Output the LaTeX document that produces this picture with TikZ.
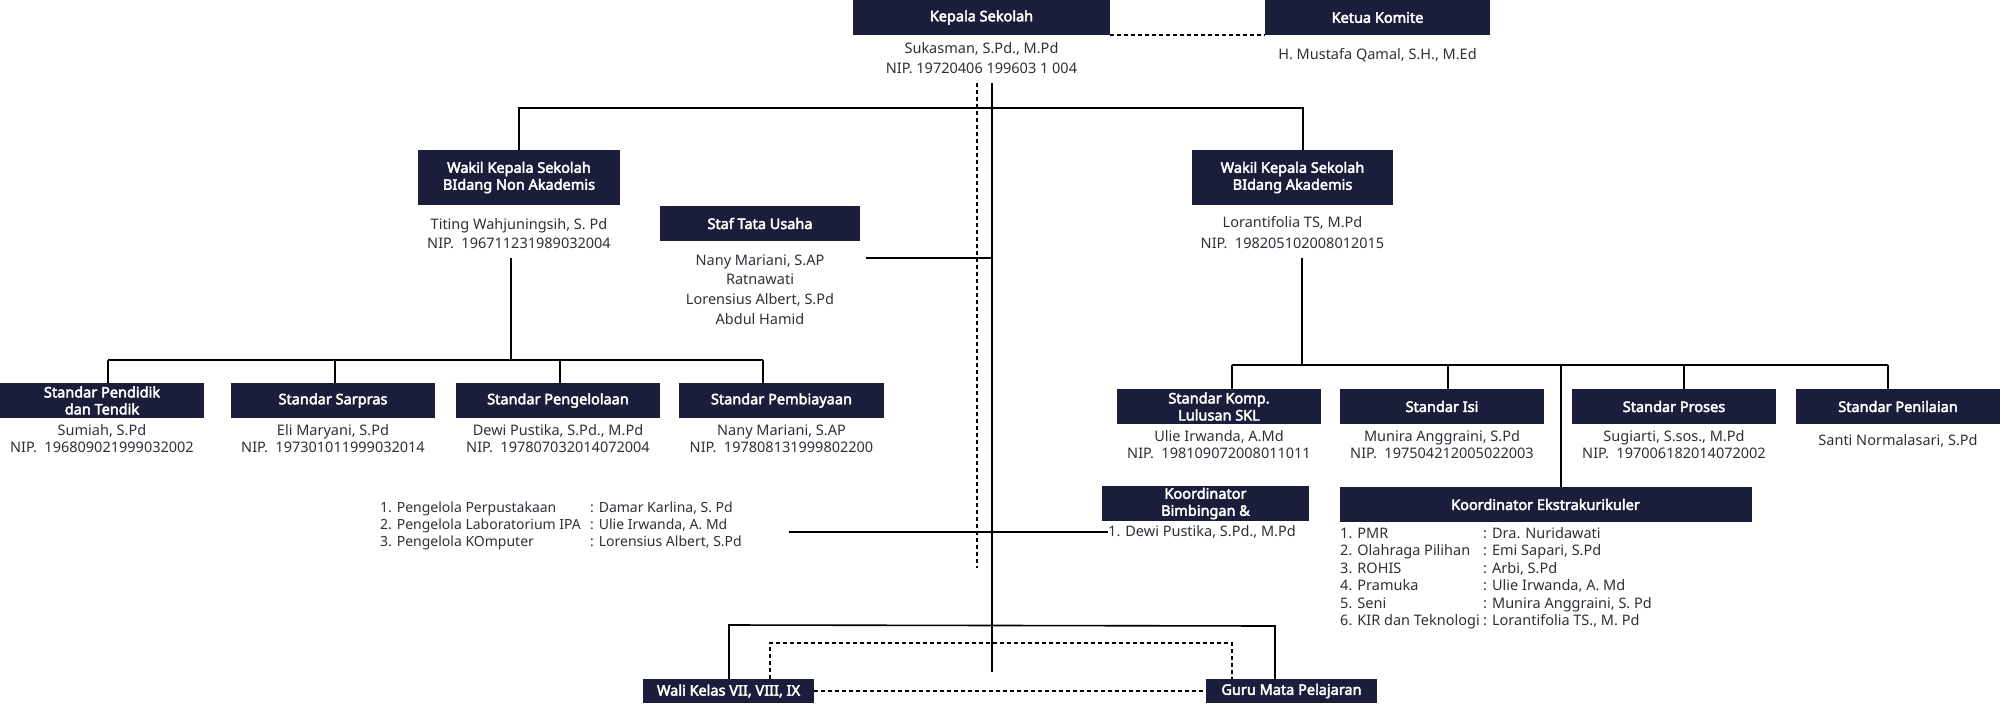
\documentclass[tikz,border=0pt]{standalone}
\usepackage{fontspec}
\setmainfont{Noto Sans}[AutoFakeBold=3]
\definecolor{navy}{HTML}{1B1E3A}
\definecolor{ink}{HTML}{2F2F38}
\newcommand\lrow[3]{\makebox[#1][l]{#2}: #3}

\begin{document}
\begin{tikzpicture}[x=1pt, y=-1pt, block/.style = {rectangle, fill=navy, text=white, font=\fontsize{14.5}{17}\selectfont\bfseries, align=center, inner sep=0pt, minimum height=35}, nm/.style = {text=ink, font=\fontsize{14.5}{17}\selectfont, align=center, inner sep=0pt}, ls/.style = {text=ink, font=\fontsize{14.5}{17.5}\selectfont, align=left, inner sep=0pt, anchor=north west}, ln/.style = {line width=1.6pt}, dt/.style = {line width=1.8pt, dash pattern=on 4pt off 3pt}]
        \useasboundingbox (0,0) rectangle (2000,705);

        \draw (981.5, 17.5) node[block, minimum width=257] (ks) {Kepala Sekolah};
        \draw (1377.5, 17.5) node[block, minimum width=225] (kk) {Ketua Komite};
        \draw (981.5, 58) node[nm, font=\fontsize{14.5}{20}\selectfont] (ksn) {Sukasman, S.Pd., M.Pd\\NIP. 19720406 199603 1 004};
        \draw (1377.5, 55) node[nm] (kkn) {H. Mustafa Qamal, S.H., M.Ed};

        \draw (519, 177.5) node[block, minimum width=202, minimum height=55] (wn) {Wakil Kepala Sekolah\\BIdang Non Akademis};
        \draw (519, 234) node[nm, font=\fontsize{14.5}{19}\selectfont] (wnn) {Titing Wahjuningsih, S. Pd\\NIP.\ \ 196711231989032004};
        \draw (1292.5, 177.5) node[block, minimum width=201, minimum height=55] (wa) {Wakil Kepala Sekolah\\BIdang Akademis};
        \draw (1292.5, 232.5) node[nm, font=\fontsize{14.5}{21}\selectfont] (wan) {Lorantifolia TS, M.Pd\\NIP.\ \ 198205102008012015};
        \draw (760, 223.5) node[block, minimum width=200] (ta) {Staf Tata Usaha};
        \draw (760, 289.5) node[nm, font=\fontsize{14.5}{19.6}\selectfont] (tan) {Nany Mariani, S.AP\\Ratnawati\\Lorensius Albert, S.Pd\\Abdul Hamid};

        \draw (102, 400.5) node[block, minimum width=204] (s1) {Standar Pendidik\\dan Tendik};
        \draw (333, 400.5) node[block, minimum width=204] (s2) {Standar Sarpras};
        \draw (558, 400.5) node[block, minimum width=204] (s3) {Standar Pengelolaan};
        \draw (781.5, 400.5) node[block, minimum width=205] (s4) {Standar Pembiayaan};
        \draw (102, 439) node[nm] (s1n) {Sumiah, S.Pd\\NIP.\ \ 196809021999032002};
        \draw (333, 439) node[nm] (s2n) {Eli Maryani, S.Pd\\NIP.\ \ 197301011999032014};
        \draw (558, 439) node[nm] (s3n) {Dewi Pustika, S.Pd., M.Pd\\NIP.\ \ 197807032014072004};
        \draw (781.5, 439) node[nm] (s4n) {Nany Mariani, S.AP\\NIP.\ \ 197808131999802200};

        \draw (1219, 406.5) node[block, minimum width=204] (r1) {Standar Komp.\\Lulusan SKL};
        \draw (1442, 406.5) node[block, minimum width=204] (r2) {Standar Isi};
        \draw (1674, 406.5) node[block, minimum width=204] (r3) {Standar Proses};
        \draw (1898, 406.5) node[block, minimum width=204] (r4) {Standar Penilaian};
        \draw (1219, 445) node[nm] (r1n) {Ulie Irwanda, A.Md\\NIP.\ \ 198109072008011011};
        \draw (1442, 445) node[nm] (r2n) {Munira Anggraini, S.Pd\\NIP.\ \ 197504212005022003};
        \draw (1674, 445) node[nm] (r3n) {Sugiarti, S.sos., M.Pd\\NIP.\ \ 197006182014072002};
        \draw (1898, 441) node[nm] (r4n) {Santi Normalasari, S.Pd};

        \draw (1205.5, 503.5) node[block, minimum width=207] (kb) {Koordinator\\Bimbingan \&};
        \draw (1108, 532) node[nm, anchor=west] (kbn) {1. Dewi Pustika, S.Pd., M.Pd};
        \draw (1545.5, 504.5) node[block, minimum width=412] (ke) {Koordinator Ekstrakurikuler};
        \draw (1340, 527) node[ls] (ken) {\lrow{143pt}{1. PMR}{Dra. Nuridawati}\\\lrow{143pt}{2. Olahraga Pilihan}{Emi Sapari, S.Pd}\\\lrow{143pt}{3. ROHIS}{Arbi, S.Pd}\\\lrow{143pt}{4. Pramuka}{Ulie Irwanda, A. Md}\\\lrow{143pt}{5. Seni}{Munira Anggraini, S. Pd}\\\lrow{143pt}{6. KIR dan Teknologi}{Lorantifolia TS., M. Pd}};
        \draw (380, 502) node[ls, font=\fontsize{14}{17}\selectfont] (pl) {\lrow{210pt}{1. Pengelola Perpustakaan}{Damar Karlina, S. Pd}\\\lrow{210pt}{2. Pengelola Laboratorium IPA}{Ulie Irwanda, A. Md}\\\lrow{210pt}{3. Pengelola KOmputer}{Lorensius Albert, S.Pd}};

        \draw (728.5, 691) node[block, minimum width=171, minimum height=24] (wk) {Wali Kelas VII, VIII, IX};
        \draw (1291.5, 691) node[block, minimum width=171, minimum height=24] (gm) {Guru Mata Pelajaran};

        \coordinate (sp0) at (992, 83);
        \coordinate (sp1) at (992, 672);
        \coordinate (da0) at (977, 83);
        \coordinate (da1) at (977, 568);
        \coordinate (tb0) at (519, 108);
        \coordinate (tb1) at (1303, 108);
        \coordinate (ts) at (866, 258);
        \coordinate (wd) at (511, 258);
        \coordinate (ad) at (1302, 258);
        \coordinate (bg) at (789, 532);
        \coordinate (fb0) at (729, 625);
        \coordinate (fb1) at (1275, 626);
        \coordinate (db0) at (770, 643);
        \coordinate (db1) at (1232, 643);
        \foreach \x [count=\i from 0] in {108, 335, 560, 763} \coordinate (lb\i) at (\x, 360);
        \foreach \x [count=\i from 0] in {1232, 1448, 1561, 1684, 1888} \coordinate (rb\i) at (\x, 365);

        \draw[ln] (sp0) -- (sp1);
        \draw[dt] (da0) -- (da1);
        \draw[dt] (ks.south east) -- (kk.south west);
        \draw[ln] (wn.north) -- (tb0) -- (tb1) -- (tb1 |- wa.north);
        \draw[ln] (ts) -- (ts -| sp0);
        \draw[ln] (wd) -- (wd |- lb0);
        \draw[ln] (lb0) -- (lb3);
        \foreach \c/\b in {lb0/s1, lb1/s2, lb2/s3, lb3/s4} \draw[ln] (\c) -- (\c |- \b.north);
        \draw[ln] (ad) -- (ad |- rb0);
        \draw[ln] (rb0) -- (rb4);
        \foreach \c/\b in {rb0/r1, rb1/r2, rb2/ke, rb3/r3, rb4/r4} \draw[ln] (\c) -- (\c |- \b.north);
        \draw[ln] (bg) -- (kbn.west);
        \draw[ln] (wk.north -| fb0) -- (fb0) -- (fb1) -- (fb1 |- gm.north);
        \draw[dt] (wk.north -| db0) -- (db0) -- (db1) -- (db1 |- gm.north);
        \draw[dt] (wk.east) -- (gm.west);
      \end{tikzpicture}
\end{document}
